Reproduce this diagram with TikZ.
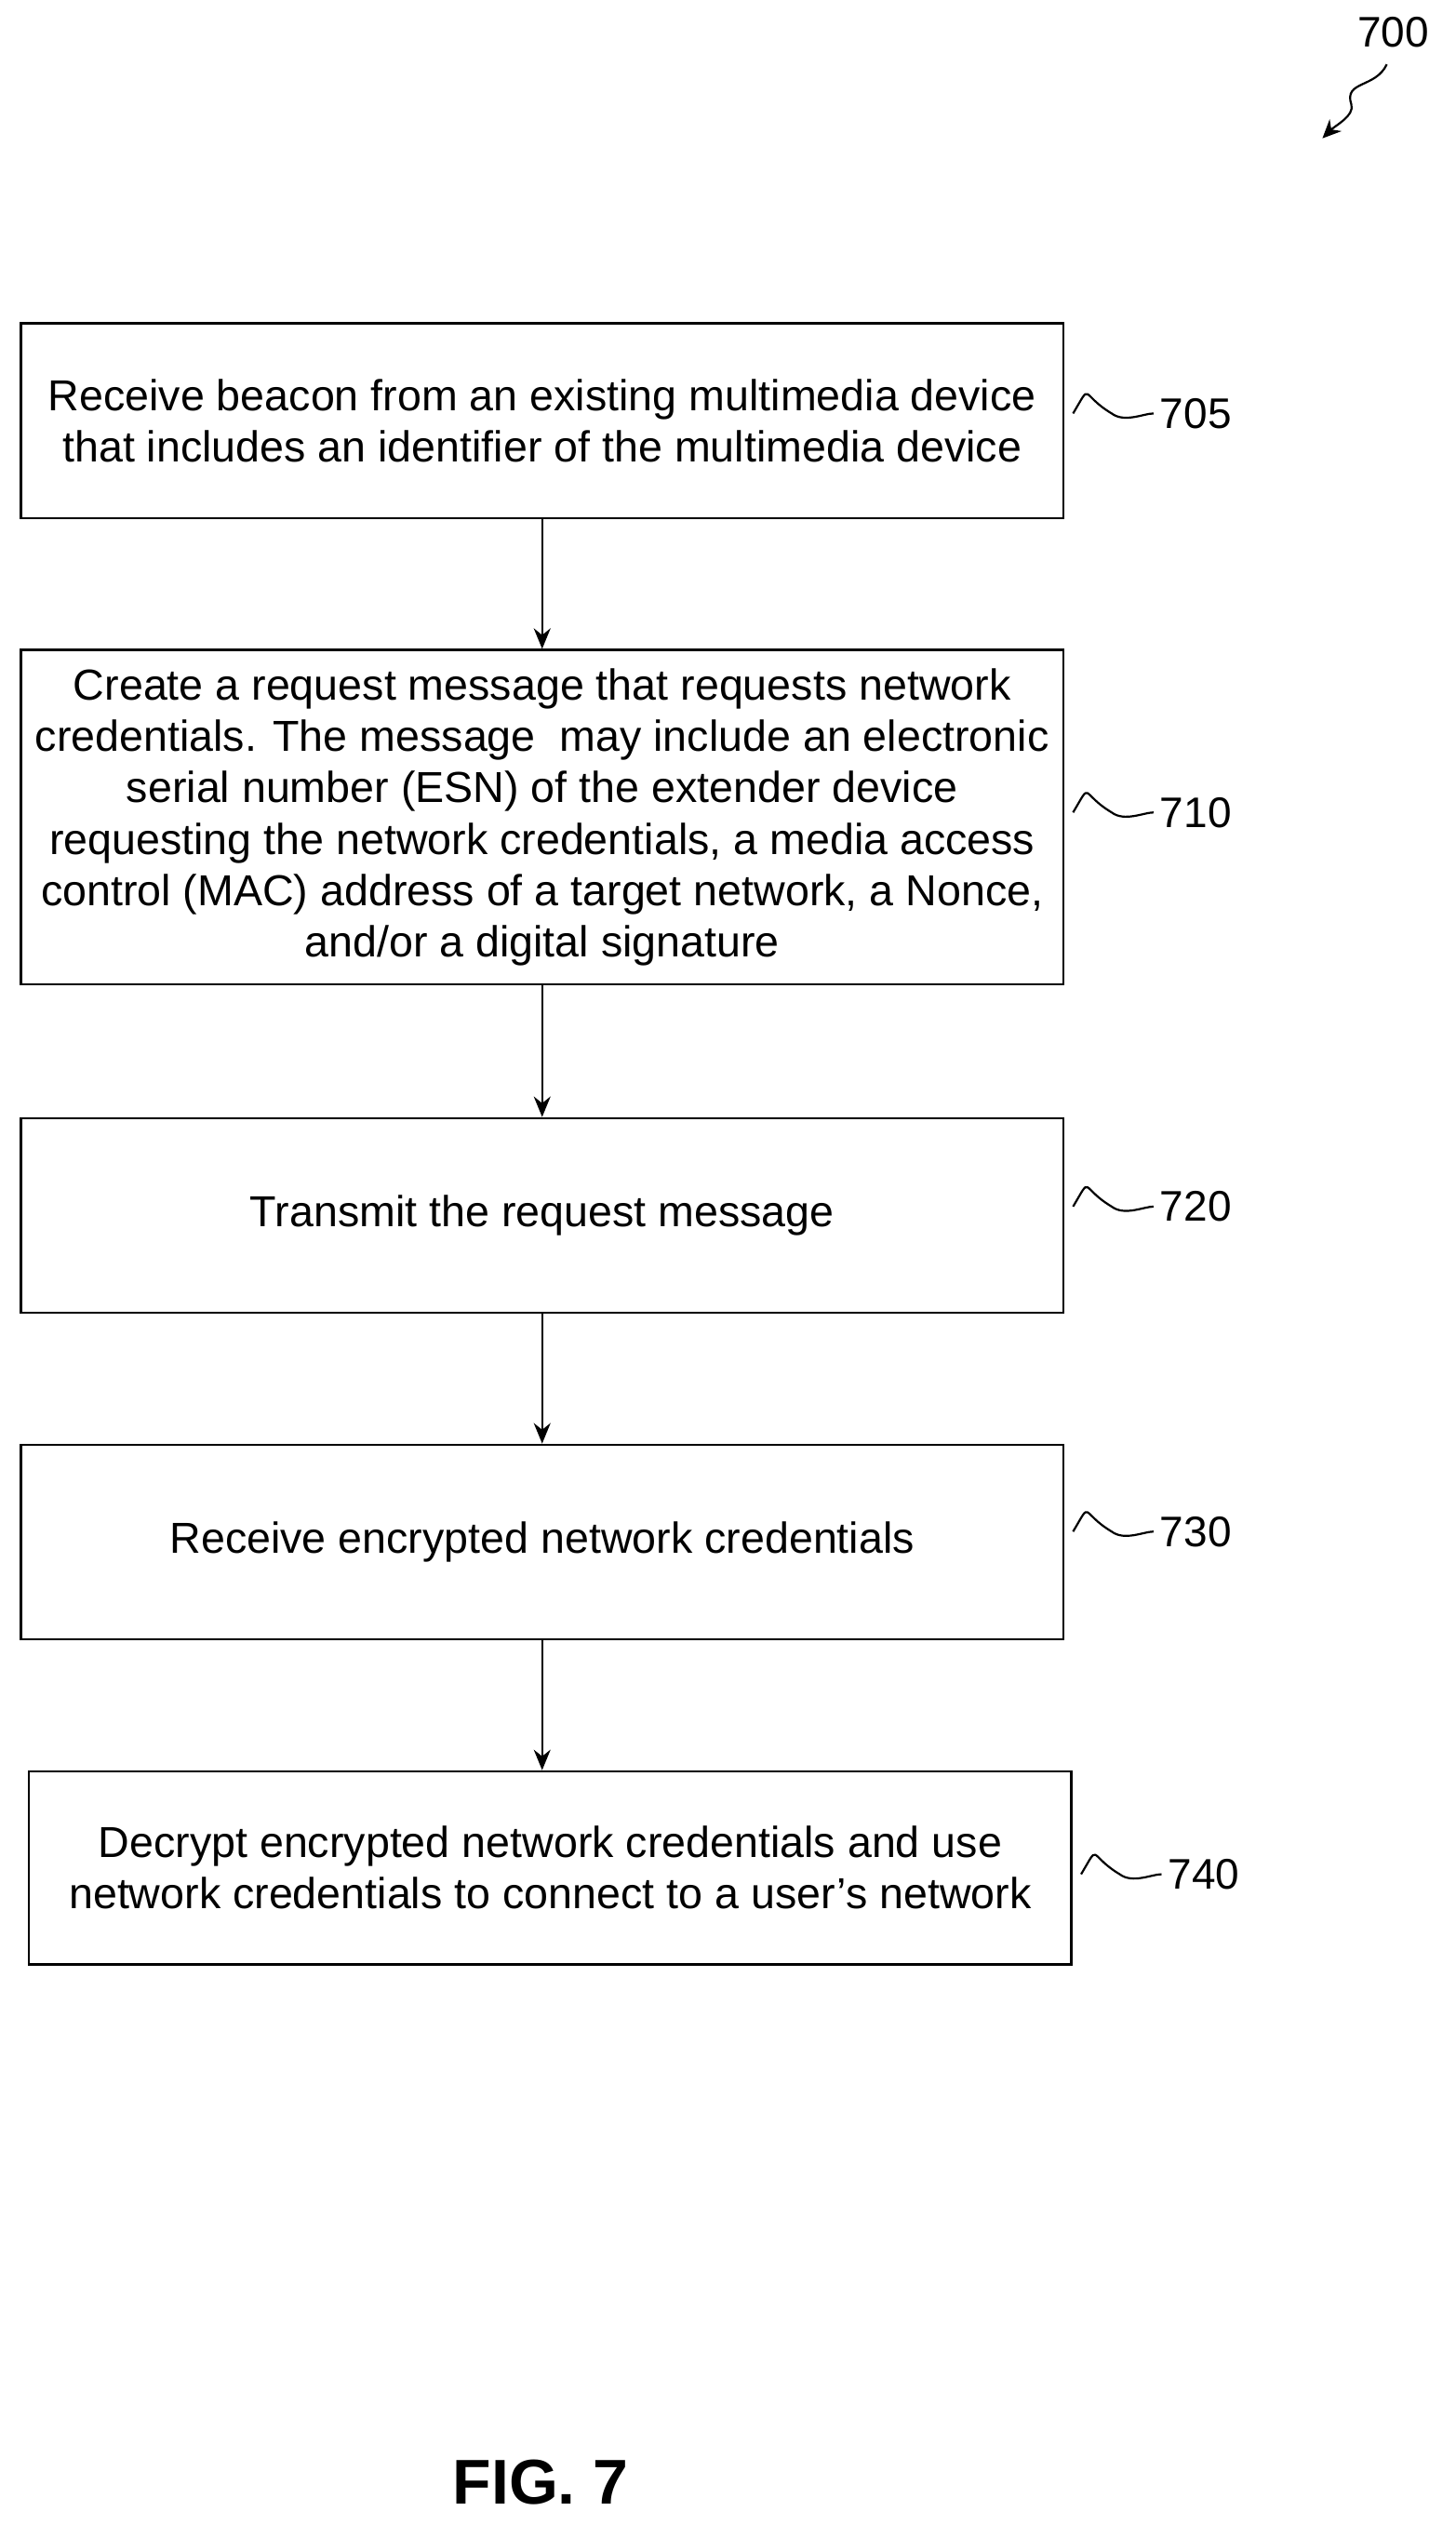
\documentclass[tikz,border=0pt]{standalone}
\usepackage{fontspec}
\setmainfont{Liberation Sans}
\usetikzlibrary{arrows.meta}
\begin{document}
\begin{tikzpicture}[x=0.8646pt,y=-0.8646pt,
  box/.style={draw,line width=1.2pt,minimum width=648*0.8646pt,align=center,font=\fontsize{23.3}{27.6}\selectfont,inner sep=0pt},
  lab/.style={font=\fontsize{23}{26}\selectfont},
  arr/.style={-{Stealth[length=11pt,width=9pt]},line width=1.2pt},
  sq/.style={line width=1.1pt}]
\useasboundingbox (0,0) rectangle (905,1577.6);
\node[box,minimum height=121*0.8646pt] (b1) at (337,261.5) {Receive beacon from an existing multimedia device\\that includes an identifier of the multimedia device};
\node[box,minimum height=208*0.8646pt] (b2) at (337,508) {Create a request message that requests network\\credentials. The message\ \ may include an electronic\\serial number (ESN) of the extender device\\requesting the network credentials, a media access\\control (MAC) address of a target network, a Nonce,\\and/or a digital signature};
\node[box,minimum height=121*0.8646pt] (b3) at (337,755.5) {Transmit the request message};
\node[box,minimum height=121*0.8646pt] (b4) at (337,958.5) {Receive encrypted network credentials};
\node[box,minimum height=120*0.8646pt] (b5) at (342,1161) {Decrypt encrypted network credentials and use\\network credentials to connect to a user’s network};
\draw[arr] (b1) -- (b2);
\draw[arr] (b2) -- (b3);
\draw[arr] (b3) -- (b4);
\draw[arr] (b4.south) -- (b4.south|-b5.north);
\foreach \n/\t/\y/\x in {l1/705/257/667,l2/710/505/667,l3/720/750/667,l4/730/952/667,l5/740/1165/672}{
  \node[lab,anchor=west] (\n) at (\x+50,\y) {\t};
  \coordinate (\n s) at (\x,\y);
  \draw[sq] (\n s) .. controls ++(12,-20) and ++(-20,-12) .. ++(24,0) .. controls ++(8,6) and ++(-6,0) .. (\n.west);
}
\node[lab] (l0) at (866,20) {700};
\coordinate (a0) at (862,40);
\coordinate (a1) at (822,86);
\draw[sq,-{Stealth[length=10pt,width=9pt]}] (a0) .. controls (855,55) and (835,50) .. (840,65) .. controls (842,72) and (830,78) .. (a1);
\node[font=\bfseries\fontsize{34}{36}\selectfont] (fig) at (336,1543) {FIG. 7};
\end{tikzpicture}
\end{document}
